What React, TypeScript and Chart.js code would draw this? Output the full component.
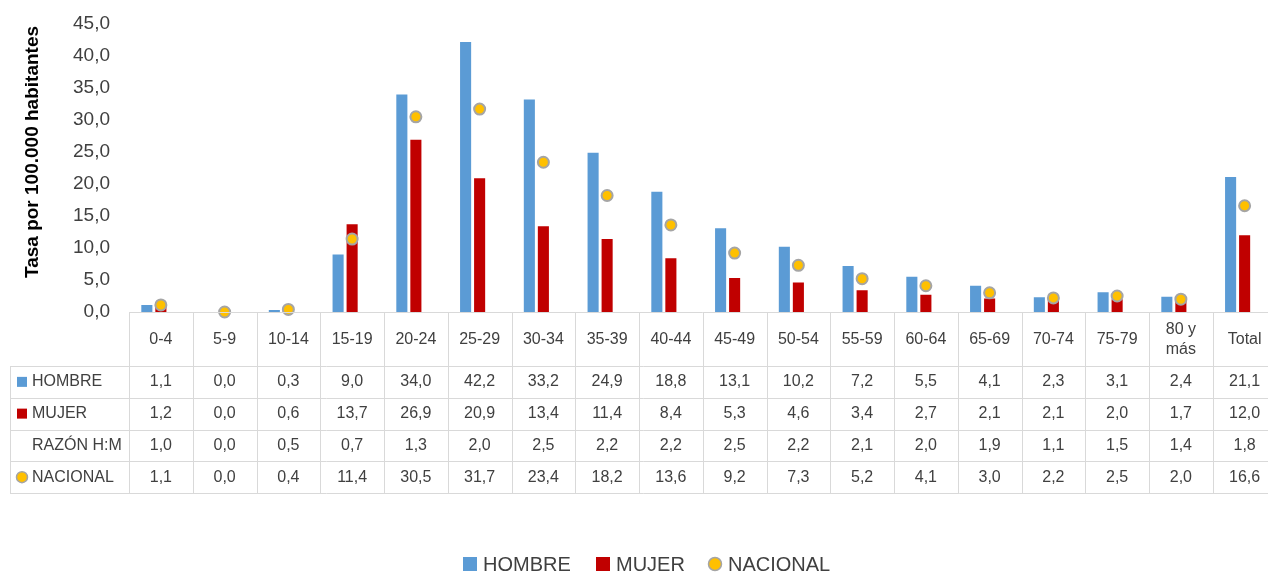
import { useEffect, useRef } from 'react';
import { Chart, registerables } from 'chart.js';

Chart.register(...registerables);

// Age groups (last one is the overall rate)
const CATEGORIES: (string | string[])[] = [
  '0-4', '5-9', '10-14', '15-19', '20-24', '25-29', '30-34', '35-39', '40-44',
  '45-49', '50-54', '55-59', '60-64', '65-69', '70-74', '75-79', ['80 y', 'más'], 'Total',
];

// Rates per 100.000 inhabitants
const HOMBRE = [1.1, 0.0, 0.3, 9.0, 34.0, 42.2, 33.2, 24.9, 18.8, 13.1, 10.2, 7.2, 5.5, 4.1, 2.3, 3.1, 2.4, 21.1];
const MUJER = [1.2, 0.0, 0.6, 13.7, 26.9, 20.9, 13.4, 11.4, 8.4, 5.3, 4.6, 3.4, 2.7, 2.1, 2.1, 2.0, 1.7, 12.0];
const RAZON = [1.0, 0.0, 0.5, 0.7, 1.3, 2.0, 2.5, 2.2, 2.2, 2.5, 2.2, 2.1, 2.0, 1.9, 1.1, 1.5, 1.4, 1.8];
const NACIONAL = [1.1, 0.0, 0.4, 11.4, 30.5, 31.7, 23.4, 18.2, 13.6, 9.2, 7.3, 5.2, 4.1, 3.0, 2.2, 2.5, 2.0, 16.6];

const Y_MIN = 0;
const Y_MAX = 45;
const Y_STEP = 5;
const Y_TITLE = 'Tasa por 100.000 habitantes';

const ROW_LABELS = ['HOMBRE', 'MUJER', 'RAZÓN H:M', 'NACIONAL'];
const ROW_VALUES = [HOMBRE, MUJER, RAZON, NACIONAL];

const BLUE = '#5B9BD5';
const RED = '#C00000';
const GOLD = '#FFC000';
const MARKER_EDGE = '#A5A5A5';
const GRID = '#D9D9D9';
const TEXT = '#404040';
const FONT = '"Liberation Sans", Arial, sans-serif';

const CANVAS_W = 1290;
const CANVAS_H = 572;

const fmt = (v: number) => v.toFixed(1).replace('.', ',');

function drawKey(ctx: CanvasRenderingContext2D, kind: number, cx: number, cy: number, size: number) {
  if (kind === 0 || kind === 1) {
    ctx.fillStyle = kind === 0 ? BLUE : RED;
    ctx.fillRect(cx - size / 2, cy - size / 2, size, size);
  } else if (kind === 3) {
    ctx.beginPath();
    ctx.arc(cx, cy, size / 2 - 1, 0, Math.PI * 2);
    ctx.fillStyle = GOLD;
    ctx.fill();
    ctx.lineWidth = 1.5;
    ctx.strokeStyle = MARKER_EDGE;
    ctx.stroke();
  }
}

// Axis title, data table under the plot and the legend at the bottom
const tablePlugin = {
  id: 'dataTable',
  afterDraw(chart: Chart) {
    const ctx = chart.ctx;
    const { left, right, bottom } = chart.chartArea;
    const n = CATEGORIES.length;
    const colW = (right - left) / n;
    const headerH = 54;
    const rowH = 31.75;
    const headerBottom = bottom + headerH;
    const tableBottom = headerBottom + rowH * ROW_LABELS.length;
    const tableLeft = 10;
    const px = (v: number) => Math.round(v) + 0.5;

    ctx.save();

    // y-axis title
    ctx.save();
    ctx.translate(33, 152);
    ctx.rotate(-Math.PI / 2);
    ctx.font = `bold 19px ${FONT}`;
    ctx.fillStyle = '#000000';
    ctx.textAlign = 'center';
    ctx.textBaseline = 'middle';
    ctx.fillText(Y_TITLE, 0, 0);
    ctx.restore();

    // grid lines of the table
    ctx.strokeStyle = GRID;
    ctx.lineWidth = 1;
    ctx.beginPath();
    ctx.moveTo(left, px(bottom));
    ctx.lineTo(right, px(bottom));
    for (let r = 0; r <= ROW_LABELS.length; r++) {
      const y = px(headerBottom + r * rowH);
      ctx.moveTo(tableLeft, y);
      ctx.lineTo(right, y);
    }
    for (let i = 0; i <= n; i++) {
      const x = px(left + i * colW);
      ctx.moveTo(x, bottom);
      ctx.lineTo(x, tableBottom);
    }
    ctx.moveTo(px(tableLeft), headerBottom);
    ctx.lineTo(px(tableLeft), tableBottom);
    ctx.stroke();

    // header row
    ctx.fillStyle = TEXT;
    ctx.font = `16px ${FONT}`;
    ctx.textAlign = 'center';
    ctx.textBaseline = 'middle';
    const xScale = chart.scales.x;
    CATEGORIES.forEach((c, i) => {
      const cx = xScale.getPixelForValue(i);
      const cy = bottom + headerH / 2 + 1;
      if (Array.isArray(c)) {
        const lh = 20;
        c.forEach((line, k) => {
          ctx.fillText(line, cx, cy + (k - (c.length - 1) / 2) * lh);
        });
      } else {
        ctx.fillText(c, cx, cy);
      }
    });

    // data rows
    ROW_LABELS.forEach((label, r) => {
      const cy = headerBottom + rowH * (r + 0.5);
      drawKey(ctx, r, 22, cy, r === 3 ? 13 : 10);
      ctx.fillStyle = TEXT;
      ctx.font = `16px ${FONT}`;
      ctx.textAlign = 'left';
      ctx.fillText(label, 32, cy);
      ctx.textAlign = 'center';
      ROW_VALUES[r].forEach((v, i) => {
        ctx.fillText(fmt(v), xScale.getPixelForValue(i), cy);
      });
    });

    // legend
    const legendY = 564;
    const items = [
      { kind: 0, label: 'HOMBRE', x: 470 },
      { kind: 1, label: 'MUJER', x: 603 },
      { kind: 3, label: 'NACIONAL', x: 715 },
    ];
    ctx.font = `20px ${FONT}`;
    ctx.textAlign = 'left';
    items.forEach((it) => {
      drawKey(ctx, it.kind, it.x, legendY, it.kind === 3 ? 15 : 14);
      ctx.fillStyle = TEXT;
      ctx.fillText(it.label, it.x + 13, legendY + 1);
    });

    ctx.restore();
  },
};

export default function App() {
  const ref = useRef<HTMLCanvasElement>(null);

  useEffect(() => {
    const canvas = ref.current;
    if (!canvas) return;
    const labels = CATEGORIES.map((c) => (Array.isArray(c) ? c.join(' ') : c));
    const chart = new Chart(canvas, {
      type: 'bar',
      data: {
        labels,
        datasets: [
          {
            type: 'line',
            label: 'NACIONAL',
            data: NACIONAL,
            showLine: false,
            pointRadius: 5.5,
            pointBorderWidth: 2,
            pointBackgroundColor: GOLD,
            pointBorderColor: MARKER_EDGE,
            backgroundColor: GOLD,
            borderColor: MARKER_EDGE,
            clip: false,
            order: 0,
          } as any,
          {
            label: 'HOMBRE',
            data: HOMBRE,
            backgroundColor: BLUE,
            borderWidth: 0,
            categoryPercentage: 0.66,
            barPercentage: 0.79,
            order: 1,
          },
          {
            label: 'MUJER',
            data: MUJER,
            backgroundColor: RED,
            borderWidth: 0,
            categoryPercentage: 0.66,
            barPercentage: 0.79,
            order: 1,
          },
          {
            // ratio series keeps its slot in each cluster but has no fill
            label: 'RAZÓN H:M',
            data: RAZON,
            backgroundColor: 'rgba(0,0,0,0)',
            borderWidth: 0,
            categoryPercentage: 0.66,
            barPercentage: 0.79,
            order: 1,
          },
        ],
      },
      options: {
        responsive: false,
        maintainAspectRatio: false,
        devicePixelRatio: 1,
        animation: false,
        events: [],
        layout: {
          padding: { left: 0, top: 24, right: CANVAS_W - 1276.5, bottom: CANVAS_H - 312 },
        },
        plugins: {
          legend: { display: false },
          tooltip: { enabled: false },
          title: { display: false },
        },
        scales: {
          x: {
            display: false,
            offset: true,
            grid: { display: false },
          },
          y: {
            min: Y_MIN,
            max: Y_MAX,
            afterFit: (scale: any) => {
              scale.width = 129;
            },
            border: { display: false },
            // tick marks are hidden; their length only offsets the labels
            grid: { display: false, drawTicks: true, tickLength: 19 },
            ticks: {
              stepSize: Y_STEP,
              padding: 0,
              color: TEXT,
              font: { family: FONT, size: 19 },
              callback: (v: any) => fmt(Number(v)),
            },
          },
        },
      },
      plugins: [tablePlugin],
    });
    return () => chart.destroy();
  }, []);

  return (
    <div
      style={{
        position: 'fixed',
        left: 0,
        top: 0,
        width: 1268,
        height: 572,
        overflow: 'hidden',
        background: '#ffffff',
      }}
    >
      <canvas ref={ref} width={CANVAS_W} height={CANVAS_H} style={{ display: 'block', width: CANVAS_W, height: CANVAS_H }} />
    </div>
  );
}
